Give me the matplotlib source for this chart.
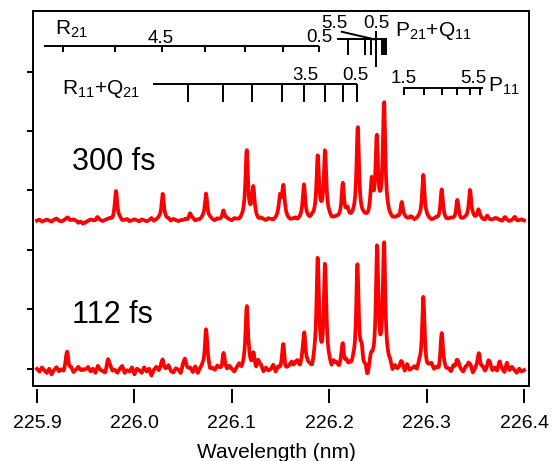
import numpy as np
import matplotlib
matplotlib.use('Agg')
import matplotlib.pyplot as plt
from matplotlib.patches import Rectangle

plt.rcParams['font.family'] = ['Liberation Sans', 'DejaVu Sans']
plt.rcParams['mathtext.fontset'] = 'custom'
plt.rcParams['mathtext.rm'] = 'Liberation Sans'
plt.rcParams['mathtext.it'] = 'Liberation Sans:italic'

# px per y unit was 59.4 in the picture, heights below are in those units
# 300 fs trace: peak centre (nm), height
pk300_x = [225.9318, 225.9473, 225.9616, 225.9811, 226.0291, 226.0571, 226.0735, 226.0913,
           226.1153, 226.1221, 226.1495, 226.1529, 226.1741, 226.1882, 226.1957, 226.2139,
           226.2190, 226.2293, 226.2436, 226.2488, 226.2563, 226.2744, 226.2830, 226.2966,
           226.3155, 226.3315, 226.3446, 226.3531, 226.3620, 226.3702, 226.3805, 226.3908]
pk300_h = [0.06, -0.07, 0.05, 0.50, 0.46, 0.12, 0.46, 0.17,
           1.18, 0.52, 0.35, 0.55, 0.58, 1.07, 1.16, 0.60,
           0.14, 1.58, 0.58, 1.34, 1.97, 0.29, 0.05, 0.77,
           0.50, 0.33, 0.52, 0.18, 0.06, 0.05, 0.04, 0.05]

# 112 fs trace
pk112_x = [225.9311, 225.9473, 225.9729, 226.0291, 226.0520, 226.0735, 226.0913, 226.1153,
           226.1221, 226.1269, 226.1529, 226.1618, 226.1673, 226.1744, 226.1882, 226.1957,
           226.2042, 226.2139, 226.2214, 226.2289, 226.2334, 226.2391, 226.2429, 226.2491,
           226.2563, 226.2737, 226.2966, 226.3155, 226.3309, 226.3428, 226.3538, 226.3634,
           226.3746, 226.3822]
pk112_h = [0.28, 0.08, 0.16, 0.20, 0.20, 0.67, 0.30, 1.11,
           0.22, 0.15, 0.40, 0.13, 0.11, 0.62, 1.86, 1.72,
           0.10, 0.43, 0.06, 1.74, 0.28, -0.20, 0.16, 1.98,
           2.13, 0.10, 1.24, 0.57, 0.15, 0.13, 0.27, 0.13,
           0.10, 0.10]

# baseline wiggle, px, one value every 0.0025 nm
noise112 = [1, -1, 2, 0, -2, 1, -3, 0, 2, -1, 0, -2, 3, -1, 1, -2, 0, 2, -1, -3,
            0, 2, -1, 1, -2, 3, 0, -1, -3, 1, 2, -1, 0, -2, 1, 3, -2, 0, -1, 2,
            -3, 1, 0, -2, 2, -1, 1, -4, 0, 2, -1, 1, -2, 0, 3, -1, -2, 1, 0, -3,
            2, -1, 0, 1, -2, 2, -3, 0, 1, -1, 3, -2, 0, -1, 2, 0, -3, 1, -1, 2,
            0, -2, 1, 3, -1, 0, -2, 2, -1, 1, -3, 0, 2, -2, 1, -1, 0, 3, -2, 1,
            -1, 2, -3, 0, 1, -2, 2, 0, -1, 3, -2, 1, 0, -3, 2, -1, 1, -2, 0, 2,
            1, -3, 0, 2, -1, 1, -2, 3, 0, -1, 2, -2, 1, 0, -3, 2, -1, 0, 1, -2,
            3, -1, 0, -2, 1, 2, -3, 1, -1, 0, 2, -2, 3, -1, 0, 1, -2, 2, -1, 0,
            -2, 1, 3, -1, 0, -3, 2, 1, -1, 0, -2, 2, -1, 3, 0, -2, 1, -1, 2, -3,
            0, 2, -1, 1, -2, 0, 3, -1, 1, -2, 2, 0, -3, 1, -1, 2, 0, -2, 1, -1,
            0]
noise300 = [0, 1, -1, 0, 1, 0, -1, 1, 2, 0, -1, 0, 1, -1, 0, 1, 0, -2, 0, 1,
            -1, 0, 1, 0, -1, 1, 0, -1, 0, 1, 1, -1, 0, 0, 1, -1, 0, 1, -1, 0,
            1, 0, -1, 1, 0, -1, 0, 2, -1, 0, 1, 0, -1, 0, 1, -1, 1, 0, -1, 0,
            0, 1, -1, 0, 1, -1, 0, 0, 1, -1, 0, 1, 0, -1, 1, 0, -1, 0, 1, 0,
            -1, 1, 0, -1, 0, 1, 0, -1, 1, 0, 0, -1, 1, 0, -1, 1, 0, -1, 0, 1,
            0, -1, 1, 0, -1, 0, 1, -1, 0, 1, 0, 0, -1, 1, 0, -1, 1, 0, -1, 0,
            1, -1, 0, 1, 0, -1, 0, 1, -1, 0, 1, 0, -1, 0, 1, 0, -1, 1, 0, -1,
            0, 1, 0, -1, 1, 0, -1, 0, 1, -1, 0, 1, 0, -1, 1, -1, 0, 1, 0, -1,
            1, 0, -1, 0, 1, -1, 1, 0, -1, 0, 1, 0, -1, 1, -1, 0, 1, 0, -1, 1,
            0, -1, 1, 0, -1, 1, 0, 0, -1, 1, 0, -1, 1, 0, -1, 0, 1, -1, 0, 1,
            0]

off112 = -0.03
off300 = 2.49

# rotational line positions (nm)
R21 = [225.9267, 225.9801, 226.0283, 226.0725, 226.1135, 226.1526, 226.1895]
P21Q11 = [226.2193, 226.2368, 226.2429, 226.2539, 226.2563, 226.2583]
P21Q11_long = 226.2480
R11Q21 = [226.0550, 226.0910, 226.1210, 226.1512, 226.1744, 226.1957, 226.2139, 226.2289]
P11 = [226.2768, 226.2976, 226.3161, 226.3315, 226.3446, 226.3548]

xticks = [225.9, 226.0, 226.1, 226.2, 226.3, 226.4]


def trace(px, ph, noise, scale=1.0, wid=0.0015):
    x = np.arange(225.9, 226.40001, 0.0005)
    xn = 225.9 + 0.0025 * np.arange(len(noise))
    y = np.interp(x, xn, scale * np.array(noise) / 59.4)
    for c, h in zip(px, ph):
        y = y + h / (1 + ((x - c) / wid) ** 2)
    return x, y


fig = plt.figure(figsize=(5.53, 4.61), dpi=100)
ax = fig.add_axes([0.0588, 0.1631, 0.8978, 0.8130])

x, y = trace(pk300_x, pk300_h, noise300)
ax.plot(x, y + off300, color='#ff0000', lw=2.7)
x, y = trace(pk112_x, pk112_h, noise112, scale=1.4)
ax.plot(x, y + off112, color='#ff0000', lw=2.7)

ax.set_xlim(225.8954, 226.4051)
ax.set_ylim(-0.291, 6.019)

for s in ax.spines.values():
    s.set_visible(False)
ax.spines['bottom'].set_position(('outward', 2.5))
ax.add_patch(Rectangle((0, 0), 1, 1, transform=ax.transAxes, fill=False,
                       lw=1.4, ec='black', clip_on=False, zorder=5))

ax.set_xticks(xticks)
ax.set_xticklabels(['%.1f' % t for t in xticks])
ax.set_yticks([0, 1, 2, 3, 4, 5])
ax.tick_params(axis='x', direction='out', length=10.4, width=1.4, pad=8, labelsize=14)
ax.tick_params(axis='y', direction='out', length=4.5, width=1.4, labelleft=False)
ax.tick_params(top=False, right=False)

fig.text(0.4995, 0.0075, 'Wavelength (nm)', ha='center', va='baseline', fontsize=15)

# line combs
k = dict(color='black', lw=1.4)
ax.hlines(5.434, 225.9072, R21[-1], **k)
ax.vlines(R21, 5.33, 5.434, **k)
ax.hlines(5.55, 226.2077, 226.2593, **k)
ax.vlines(P21Q11, 5.28, 5.55, **k)
ax.vlines(P21Q11_long, 5.08, 5.69, **k)
ax.plot([226.2128, 226.247], [5.67, 5.54], **k)
ax.hlines(4.79, 226.0188, R11Q21[-1], **k)
ax.vlines(R11Q21, 4.49, 4.79, **k)
ax.hlines(4.73, 226.2761, 226.3576, **k)
ax.vlines(P11, 4.60, 4.73, **k)

nf, lf = 13.5, 15
ax.text(225.9185, 5.626, 'R$_{21}$', fontsize=lf, va='baseline')
ax.text(226.0273, 5.475, '4.5', fontsize=nf, ha='center', va='baseline')
ax.text(226.1895, 5.50, '0.5', fontsize=nf, ha='center', va='baseline')
ax.text(226.2049, 5.73, '5.5', fontsize=nf, ha='center', va='baseline')
ax.text(226.2480, 5.73, '0.5', fontsize=nf, ha='center', va='baseline')
ax.text(226.2676, 5.60, 'P$_{21}$+Q$_{11}$', fontsize=lf, va='baseline')
ax.text(225.9254, 4.63, 'R$_{11}$+Q$_{21}$', fontsize=lf, va='baseline')
ax.text(226.1752, 4.857, '3.5', fontsize=nf, ha='center', va='baseline')
ax.text(226.2270, 4.857, '0.5', fontsize=nf, ha='center', va='baseline')
ax.text(226.2768, 4.80, '1.5', fontsize=nf, ha='center', va='baseline')
ax.text(226.3480, 4.80, '5.5', fontsize=nf, ha='center', va='baseline')
ax.text(226.3625, 4.66, 'P$_{11}$', fontsize=lf, va='baseline')

ax.text(225.9355, 3.342, '300 fs', fontsize=22, va='baseline')
ax.text(225.9355, 0.761, '112 fs', fontsize=22, va='baseline')

plt.savefig('out.png', dpi=100)
